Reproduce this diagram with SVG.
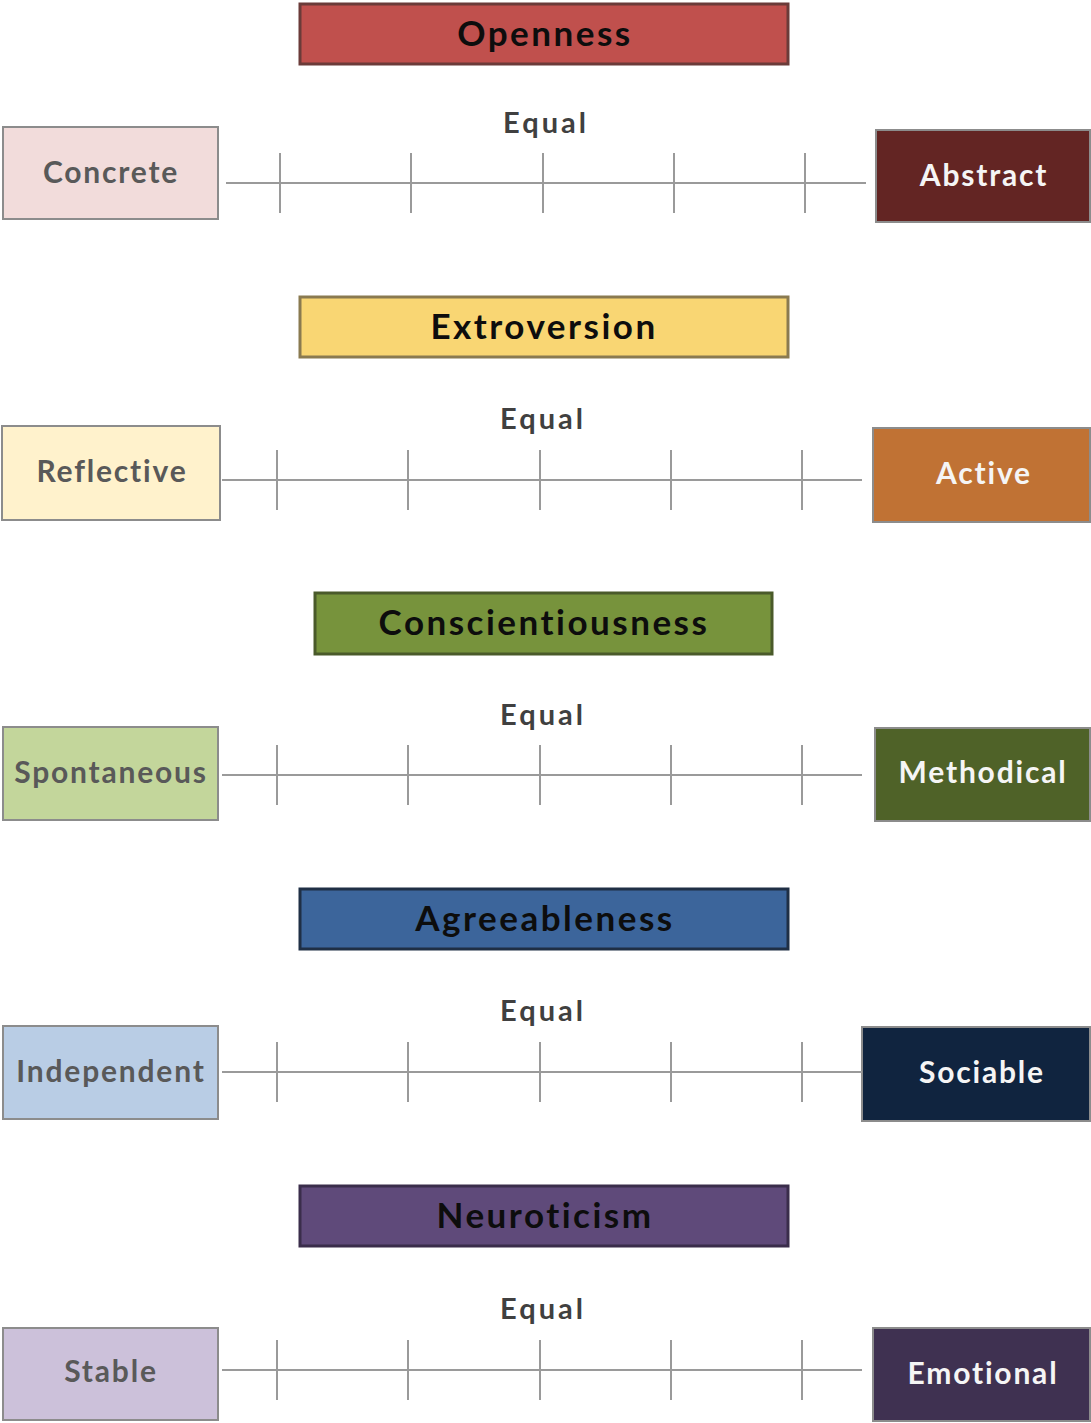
<svg xmlns="http://www.w3.org/2000/svg" width="1091" height="1423" viewBox="0 0 1091 1423">
<style>
text{font-family:Lato,"Open Sans","Liberation Sans",sans-serif;font-weight:bold;text-anchor:middle;dominant-baseline:central}
.t{font-size:35px;fill:#0d0d0d;letter-spacing:2.5px}
.l{font-size:30px;fill:#595959;letter-spacing:1.8px}
.r{font-size:30px;fill:#f5f5f5;letter-spacing:1.8px}
.e{font-size:29px;fill:#404040;letter-spacing:3px}
.side{stroke:#8c8c8c;stroke-width:2}
.ax{stroke:#9a9a9a;stroke-width:2;fill:none}
</style>
<rect width="1091" height="1423" fill="#fff"/>
<g id="openness">
<rect x="300" y="4" width="488" height="60" fill="#c0504d" stroke="#6b3b39" stroke-width="3"/>
<text class="t" x="545" y="32">Openness</text>
</g>
<g id="concrete"><rect class="side" x="3" y="127" width="215" height="92" fill="#f2dcdb"/><text class="l" x="111" y="171">Concrete</text></g>
<g id="abstract"><rect class="side" x="876" y="130" width="214" height="92" fill="#632523"/><text class="r" x="984" y="174">Abstract</text></g>
<text class="e" x="546" y="121">Equal</text>
<g id="extroversion">
<rect x="300" y="297" width="488" height="60" fill="#f9d673" stroke="#8a7a50" stroke-width="3"/>
<text class="t" x="544" y="325">Extroversion</text>
</g>
<g id="reflective"><rect class="side" x="2" y="426" width="218" height="94" fill="#fff2cc"/><text class="l" x="112" y="470">Reflective</text></g>
<g id="active"><rect class="side" x="873" y="428" width="217" height="94" fill="#c07234"/><text class="r" x="984" y="472">Active</text></g>
<text class="e" x="543" y="417">Equal</text>
<g id="conscientiousness">
<rect x="315" y="593" width="457" height="61" fill="#77933c" stroke="#4a5a2a" stroke-width="3"/>
<text class="t" x="544" y="621">Conscientiousness</text>
</g>
<g id="spontaneous"><rect class="side" x="3" y="727" width="215" height="93" fill="#c3d69b"/><text class="l" x="111" y="771">Spontaneous</text></g>
<g id="methodical"><rect class="side" x="875" y="728" width="215" height="93" fill="#4f6228"/><text class="r" x="983" y="771">Methodical</text></g>
<text class="e" x="543" y="713">Equal</text>
<g id="agreeableness">
<rect x="300" y="889" width="488" height="60" fill="#3c659b" stroke="#1f2f45" stroke-width="3"/>
<text class="t" x="545" y="917">Agreeableness</text>
</g>
<g id="independent"><rect class="side" x="3" y="1026" width="215" height="93" fill="#b9cde5"/><text class="l" x="111" y="1070">Independent</text></g>
<g id="sociable"><rect class="side" x="862" y="1027" width="228" height="94" fill="#10243f"/><text class="r" x="982" y="1071">Sociable</text></g>
<text class="e" x="543" y="1009">Equal</text>
<g id="neuroticism">
<rect x="300" y="1186" width="488" height="60" fill="#5f4a7a" stroke="#3a2d4b" stroke-width="3"/>
<text class="t" x="545" y="1214">Neuroticism</text>
</g>
<g id="stable"><rect class="side" x="3" y="1328" width="215" height="92" fill="#ccc1da"/><text class="l" x="111" y="1370">Stable</text></g>
<g id="emotional"><rect class="side" x="873" y="1328" width="217" height="93" fill="#3f3151"/><text class="r" x="983" y="1372">Emotional</text></g>
<text class="e" x="543" y="1307">Equal</text>
<g id="connectors" class="ax">
<path d="M226 183H866M280 153V213M411 153V213M543 153V213M674 153V213M805 153V213"/>
<path d="M222 480H862M277 450V510M408 450V510M540 450V510M671 450V510M802 450V510"/>
<path d="M222 775H862M277 745V805M408 745V805M540 745V805M671 745V805M802 745V805"/>
<path d="M222 1072H862M277 1042V1102M408 1042V1102M540 1042V1102M671 1042V1102M802 1042V1102"/>
<path d="M222 1370H862M277 1340V1400M408 1340V1400M540 1340V1400M671 1340V1400M802 1340V1400"/>
</g>
</svg>
